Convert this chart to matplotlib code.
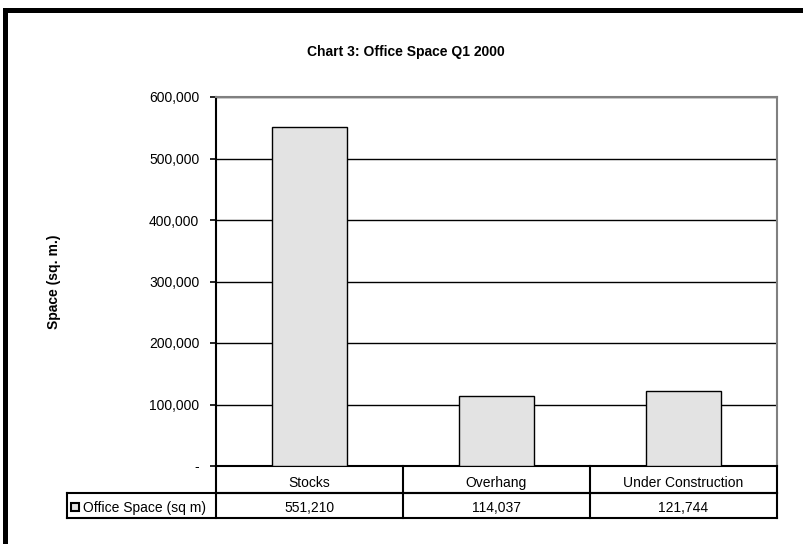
import matplotlib
matplotlib.use("Agg")
import matplotlib.pyplot as plt
from matplotlib.lines import Line2D
from matplotlib.patches import Rectangle

plt.rcParams['font.family'] = ['Liberation Sans', 'DejaVu Sans']

categories = ["Stocks", "Overhang", "Under Construction"]
values = [551210, 114037, 121744]
series_name = "Office Space (sq m)"
yticks = [0, 100000, 200000, 300000, 400000, 500000, 600000]

W, H = 804, 544
fs = 10
fig = plt.figure(figsize=(W / 100, H / 100), dpi=100)

# plot area in pixels
left, right, top, bottom = 216, 777, 97, 466
ax = fig.add_axes([left / W, 1 - bottom / H, (right - left) / W, (bottom - top) / H])

x = range(len(categories))
ax.bar(x, values, width=0.4, color="#e3e3e3", edgecolor="black", linewidth=1, zorder=3)
ax.set_xlim(-0.5, len(categories) - 0.5)
ax.set_ylim(0, 600000)
ax.set_yticks(yticks)
ax.set_yticklabels(["-" if v == 0 else f"{v:,}" for v in yticks], fontsize=fs)
ax.set_xticks([])
ax.yaxis.grid(True, color="black", linewidth=1, zorder=0)
ax.tick_params(axis="y", length=4, width=1.2, pad=8, direction="out")

for s in ["top", "right"]:
    ax.spines[s].set_color("#808080")
    ax.spines[s].set_linewidth(1.5)
ax.spines["left"].set_linewidth(1.5)
ax.spines["bottom"].set_linewidth(1.5)

ax.set_ylabel("Space (sq. m.)", fontsize=fs, fontweight="bold", labelpad=0)
ax.yaxis.set_label_coords((61 - left) / (right - left), 0.5)

fig.text(406 / W, 1 - 52 / H, "Chart 3: Office Space Q1 2000", fontsize=fs,
         fontweight="bold", ha="center", va="center")

# data table under the axis
def yf(py):
    return (bottom - py) / (bottom - top)

def xf(px):
    return (px - left) / (right - left)

row1, row2 = yf(493), yf(518)
leg_left = xf(67)
n = len(categories)
tr = ax.transAxes
lw = 1.5
lines = [
    ((0, 1), (row1, row1)),
    ((leg_left, 1), (row2, row2)),
    ((leg_left, 1), (row1, row1)),
    ((leg_left, leg_left), (row1, row2)),
]
for i in range(n + 1):
    lines.append(((i / n, i / n), (0, row2)))
for xs, ys in lines:
    ax.add_line(Line2D(xs, ys, transform=tr, color="black", lw=lw, clip_on=False,
                       solid_capstyle="projecting"))

for i, (c, v) in enumerate(zip(categories, values)):
    ax.text((i + 0.5) / n, yf(487), c, transform=tr, ha="center", va="baseline", fontsize=fs)
    ax.text((i + 0.5) / n, yf(512), f"{v:,}", transform=tr, ha="center",
            va="baseline", fontsize=fs)

ax.add_patch(Rectangle((xf(70.5), yf(511)), xf(78.5) - xf(70.5), yf(503) - yf(511), transform=tr,
                       facecolor="#e3e3e3", edgecolor="black", lw=1.5, clip_on=False))
ax.text(xf(83), yf(512), series_name, transform=tr, ha="left", va="baseline", fontsize=fs)

# outer frame (left and top only visible)
fig.add_artist(Line2D([5 / W, 5 / W], [0, 1 - 9.5 / H], color="black", lw=3.6,
                      transform=fig.transFigure, solid_capstyle="projecting"))
fig.add_artist(Line2D([5 / W, 1], [1 - 9.5 / H, 1 - 9.5 / H], color="black", lw=3.6,
                      transform=fig.transFigure, solid_capstyle="projecting"))

fig.savefig("out.png", dpi=100)
